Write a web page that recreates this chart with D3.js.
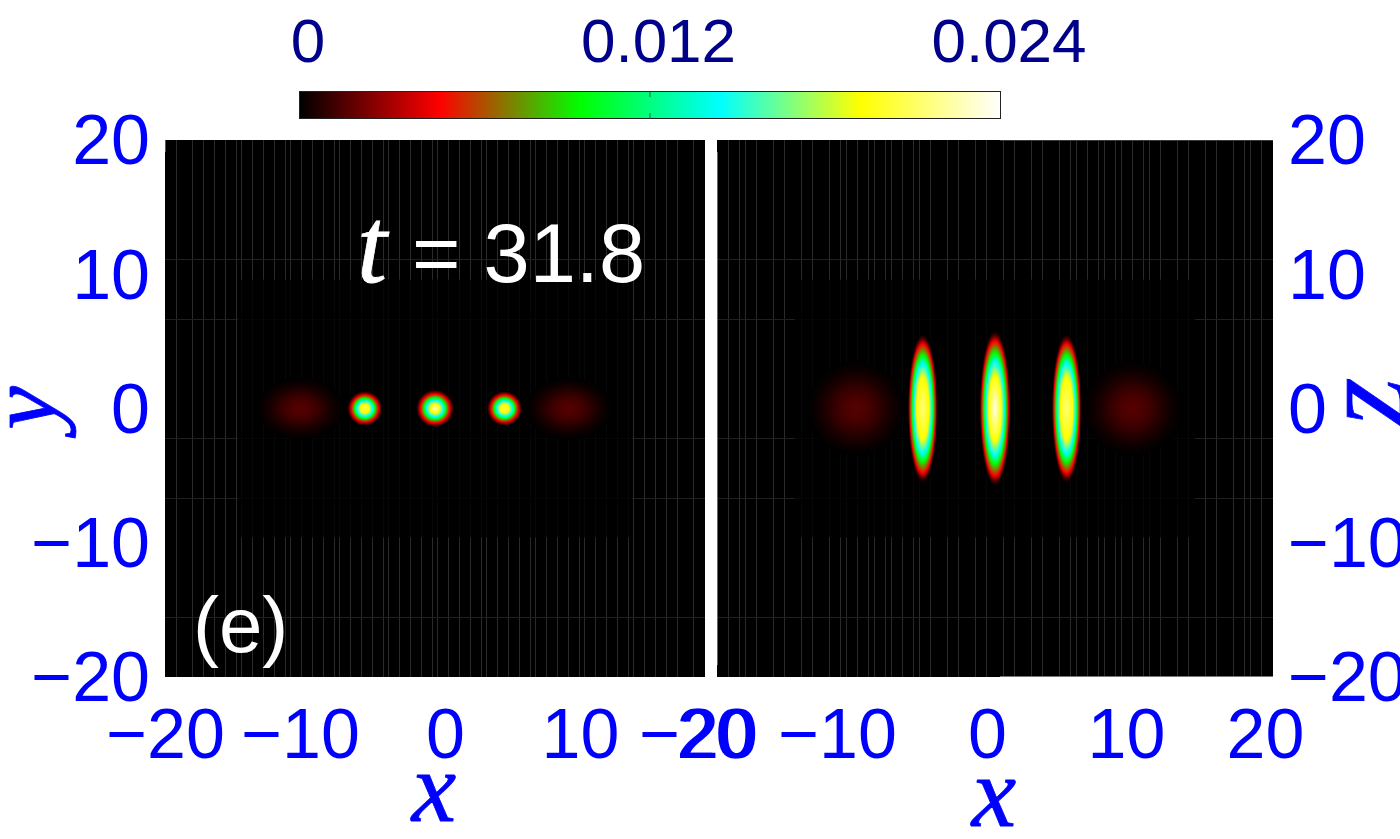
<!DOCTYPE html>
<html>
<head>
<meta charset="utf-8">
<style>
  html, body { margin: 0; padding: 0; background: #fff; overflow: hidden; }
  text { font-family: "Liberation Sans", sans-serif; }
  .math { font-family: "Liberation Serif", serif; font-style: italic; }
</style>
<script src="https://cdn.jsdelivr.net/npm/d3@7"></script>
</head>
<body>
<svg id="chart" width="1400" height="839"></svg>
<script>
// DATA
const axisTicks = [-20, -10, 0, 10, 20];
const colorTicks = [0, 0.012, 0.024];
const colorStops = [0, 0.0048, 0.0096, 0.0144, 0.0192, 0.024];
const colorNames = ["#000000", "#ff0000", "#00ff00", "#00ffff", "#ffff00", "#ffffff"];

// blobs, left to right
const blobX = [-10, -5.2, 0, 5.15, 9.9];
const blobY = [0, 0, 0, 0, 0];
const blobKind = ["dim", "sharp", "sharp", "sharp", "dim"];
const blobPeakXY = [0.0016, 0.0205, 0.0228, 0.0205, 0.0016];
const blobPeakXZ = [0.0016, 0.0215, 0.0236, 0.0215, 0.0016];
const blobEdgeXY = [[3.2, 2.3], [1.3, 1.3], [1.4, 1.4], [1.3, 1.3], [3.2, 2.3]];
const blobEdgeXZ = [[3.5, 3.5], [1.06, 5.5], [1.1, 5.75], [1.06, 5.5], [3.5, 3.5]];

// density (as share of the bright rings) against fraction of the blob edge
const sharpValue = [0.0192, 0.0144, 0.0096, 0.0048, 0.0016, 0];
const sharpRadiusXY = [0.25, 0.44, 0.58, 0.76, 0.9, 1];
const sharpRadiusXZ = [0.42, 0.6, 0.72, 0.87, 0.94, 1];
const dimRadius = [0, 0.2, 0.4, 0.6, 0.8, 1];
const dimShare = [1, 0.9, 0.68, 0.4, 0.15, 0];

// faint streaks in the background of each panel
const streakXLeft = [-19.19, -18, -17.19, -16.37, -15.56, -14.74, -14.37, -13.56, -12.74, -11.93, -11.11, -10.74, -9.93, -9.11, -8.3, -7.48, -7.11, -6.3, -5.48, -4.67, -3.85, -3.48, -2.67, -1.85, -1.04, -0.22, 0.15, 0.96, 1.78, 2.59, 3.41, 3.78, 4.59, 5.41, 6.22, 7.04, 7.41, 8.22, 9.04, 9.85, 10.67, 11.04, 11.85, 12.67, 13.48, 14.3, 14.67, 15.48, 16.3, 17.11, 17.93, 19.11];
const streakXRight = [-19.21, -18.42, -17.99, -17.19, -15.97, -15.18, -13.96, -13.17, -11.94, -11.15, -10.72, -9.93, -9.14, -8.71, -7.91, -7.48, -6.69, -5.9, -5.47, -4.68, -3.45, -2.66, -1.44, -0.65, 0.58, 1.37, 2.59, 3.38, 4.6, 5.4, 5.83, 6.62, 7.41, 7.84, 8.63, 9.06, 9.86, 10.65, 11.08, 11.87, 13.09, 13.88, 15.11, 15.9, 17.12, 17.91, 18.35, 19.14];
const streakY = [11.14, 6.67, -2.2, -6.67, -15.53];

// LAYOUT
const BLUE = "#0000ff";
const NAVY = "#00008b";
const TICK_FONT = 70;
const PANEL_TOP = 140;
const PANEL_BOTTOM = 677;

const svg = d3.select("#chart");
const defs = svg.append("defs");

const colorScale = d3.scaleLinear().domain(colorStops).range(colorNames);

const yScale = d3.scaleLinear().domain([-20, 20]).range([PANEL_BOTTOM, PANEL_TOP]);

// snap hairlines to a pixel
const crisp = v => Math.round(v) + 0.5;

const panels = [
  {
    id: "xy", left: 165, right: 705, streaks: streakXLeft,
    peaks: blobPeakXY, edges: blobEdgeXY, sharpRadius: sharpRadiusXY,
    inner: [-14.6, 14.6], labelShift: d => (d < 0 ? 0 : 10)
  },
  {
    id: "xz", left: 717, right: 1273, streaks: streakXRight,
    peaks: blobPeakXZ, edges: blobEdgeXZ, sharpRadius: sharpRadiusXZ,
    inner: [-14.4, 14.4], labelShift: d => (d < 0 ? -19 : -8)
  }
];

// radial fill of one blob, stops taken from the profile arrays
const blobGradient = (id, kind, peak, sharpRadius) => {
  const radius = kind === "sharp" ? [0, ...sharpRadius] : dimRadius;
  const value = kind === "sharp" ? [peak, ...sharpValue] : dimShare.map(s => s * peak);
  const gradient = defs.append("radialGradient").attr("id", id);
  gradient.selectAll("stop")
    .data(radius)
    .join("stop")
    .attr("offset", d => d)
    .attr("stop-color", (_, i) => colorScale(value[i]));
  return `url(#${id})`;
};

const drawPanel = (panel) => {
  const xScale = d3.scaleLinear().domain([-20, 20]).range([panel.left, panel.right]);
  const g = svg.append("g").attr("id", `${panel.id}_panel`);

  g.append("rect")
    .attr("x", panel.left)
    .attr("y", PANEL_TOP)
    .attr("width", panel.right - panel.left)
    .attr("height", PANEL_BOTTOM - PANEL_TOP)
    .attr("fill", "#000");

  // vertical streaks
  g.selectAll("line.vstreak")
    .data(panel.streaks)
    .join("line")
    .attr("class", "vstreak")
    .attr("x1", d => crisp(xScale(d)))
    .attr("x2", d => crisp(xScale(d)))
    .attr("y1", PANEL_TOP)
    .attr("y2", PANEL_BOTTOM)
    .attr("stroke", "#2a2a2a")
    .attr("stroke-width", 1);

  // horizontal streaks
  g.selectAll("line.hstreak")
    .data(streakY)
    .join("line")
    .attr("class", "hstreak")
    .attr("x1", panel.left)
    .attr("x2", panel.right)
    .attr("y1", d => crisp(yScale(d)))
    .attr("y2", d => crisp(yScale(d)))
    .attr("stroke", "#202020")
    .attr("stroke-width", 1);

  // darker block behind the blobs
  g.append("rect")
    .attr("x", xScale(panel.inner[0]))
    .attr("y", yScale(9.6))
    .attr("width", xScale(panel.inner[1]) - xScale(panel.inner[0]))
    .attr("height", yScale(-9.6) - yScale(9.6))
    .attr("fill", "#000")
    .attr("opacity", 0.82);

  // blobs
  g.selectAll("ellipse")
    .data(blobX)
    .join("ellipse")
    .attr("cx", d => xScale(d))
    .attr("cy", (_, i) => yScale(blobY[i]))
    .attr("rx", (d, i) => xScale(d + panel.edges[i][0]) - xScale(d))
    .attr("ry", (_, i) => yScale(blobY[i]) - yScale(blobY[i] + panel.edges[i][1]))
    .attr("fill", (_, i) => blobGradient(`${panel.id}_blob${i}`, blobKind[i], panel.peaks[i], panel.sharpRadius));

  // x axis, only the labels are visible
  const axis = g.append("g")
    .attr("transform", `translate(0, 758)`)
    .call(d3.axisBottom(xScale).tickValues(axisTicks).tickSize(0));
  axis.select(".domain").remove();
  axis.selectAll("text")
    .attr("x", d => panel.labelShift(d))
    .attr("y", 0)
    .attr("dy", 0)
    .attr("fill", BLUE)
    .style("font-family", '"Liberation Sans", sans-serif')
    .style("font-size", `${TICK_FONT}px`);
};

panels.forEach(drawPanel);

// grey slivers along the panel edges
const edgeSlivers = [
  [165.5, 140, 165.5, 152, "#555"],
  [717.5, 152, 717.5, 665, "#666"],
  [1000, 140.5, 1273, 140.5, "#3a3a3a"],
  [1000, 676.5, 1273, 676.5, "#777"]
];
svg.selectAll("line.sliver")
  .data(edgeSlivers)
  .join("line")
  .attr("class", "sliver")
  .attr("x1", d => d[0])
  .attr("y1", d => d[1])
  .attr("x2", d => d[2])
  .attr("y2", d => d[3])
  .attr("stroke", d => d[4]);

// y axes
const drawYAxis = (x, axisCall, anchor, textX) => {
  const axis = svg.append("g")
    .attr("transform", `translate(${x}, 0)`)
    .call(axisCall(yScale).tickValues(axisTicks).tickSize(0));
  axis.select(".domain").remove();
  axis.selectAll("text")
    .attr("x", textX)
    .attr("dy", "0.34em")
    .attr("text-anchor", anchor)
    .attr("fill", BLUE)
    .style("font-family", '"Liberation Sans", sans-serif')
    .style("font-size", `${TICK_FONT}px`);
};
drawYAxis(165, d3.axisLeft, "end", -15);
drawYAxis(1273, d3.axisRight, "start", 15);

// axis names
const mathLabel = (text, x, y, size, fill, rotate) => {
  svg.append("text")
    .attr("class", "math")
    .attr("transform", `translate(${x}, ${y}) rotate(${rotate || 0})`)
    .attr("text-anchor", "middle")
    .attr("fill", fill)
    .attr("stroke", fill)
    .attr("stroke-width", 0.8)
    .style("font-size", `${size}px`)
    .text(text);
};
mathLabel("x", 434, 821, 100, BLUE);
mathLabel("x", 994, 826, 100, BLUE);
mathLabel("y", 55, 408, 98, BLUE, -90);
mathLabel("z", 1405, 402, 125, BLUE, -90);

// annotations
mathLabel("t", 372, 282, 108, "#fff");
svg.append("text")
  .attr("x", 412)
  .attr("y", 282)
  .attr("fill", "#fff")
  .style("font-size", "83px")
  .text("= 31.8");
svg.append("text")
  .attr("x", 193)
  .attr("y", 652)
  .attr("fill", "#fff")
  .style("font-size", "78px")
  .text("(e)");

// COLORBAR
const barScale = d3.scaleLinear().domain([0, 0.024]).range([299, 1000]);
const barGradient = defs.append("linearGradient").attr("id", "bar_gradient");
barGradient.selectAll("stop")
  .data(colorStops)
  .join("stop")
  .attr("offset", d => d / 0.024)
  .attr("stop-color", (_, i) => colorNames[i]);

svg.append("rect")
  .attr("x", barScale(0) + 0.5)
  .attr("y", 91.5)
  .attr("width", barScale(0.024) - barScale(0))
  .attr("height", 27)
  .attr("fill", "url(#bar_gradient)")
  .attr("stroke", "#222")
  .attr("stroke-width", 1);

// tick stubs on the bar
[[91, 97], [113, 119]].forEach(([y1, y2]) => {
  svg.append("line")
    .attr("x1", barScale(0.012) + 0.5)
    .attr("x2", barScale(0.012) + 0.5)
    .attr("y1", y1)
    .attr("y2", y2)
    .attr("stroke", "#1a5a4a");
});

svg.selectAll("text.bar-label")
  .data(colorTicks)
  .join("text")
  .attr("class", "bar-label")
  .attr("x", d => barScale(d) + 9)
  .attr("y", 62)
  .attr("text-anchor", "middle")
  .attr("fill", NAVY)
  .style("font-size", "62px")
  .text(d => d);
</script>
</body>
</html>
